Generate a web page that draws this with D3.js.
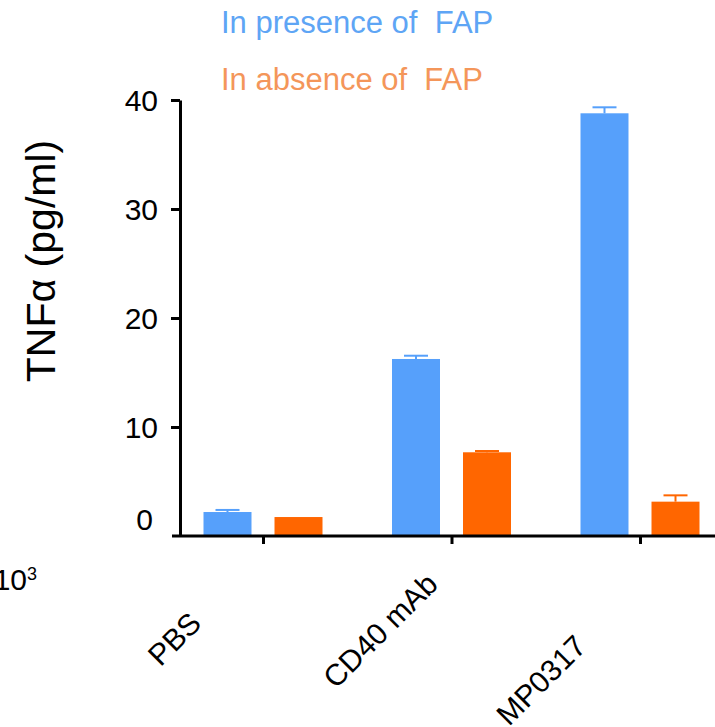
<!DOCTYPE html>
<html>
<head>
<meta charset="utf-8">
<script src="https://cdn.jsdelivr.net/npm/d3@7"></script>
<style>
  body { margin: 0; background: #fff; }
  text { font-family: "Liberation Sans", Arial, sans-serif; }
</style>
</head>
<body>
<div class="chart"></div>
<script>
// data
var groups = ["PBS", "CD40 mAb", "MP0317"]
var series = ["In presence of  FAP", "In absence of  FAP"]
var presence = [2.2, 16.24, 38.78]
var presenceErr = [0.19, 0.3, 0.55]
var absence = [1.74, 7.68, 3.15]
var absenceErr = [0, 0.12, 0.58]
var yTicks = [0, 10, 20, 30, 40]

var barColors = ["#56a0fb", "#ff6600"]
var legendColors = ["#5ea5f5", "#f4965a"]

var width = 715, height = 727

var svg = d3.select(".chart")
    .append("svg")
        .attr("width", width)
        .attr("height", height)

var x0 = d3.scalePoint().domain(groups).range([263, 640])
var x1 = d3.scaleBand().domain(series).range([-59.5, 59.5]).paddingInner(0.324)
var y = d3.scaleLinear().domain([0, 40]).range([536, 100])

var data = []
groups.forEach((g, i) => {
    data.push({group: g, series: series[0], value: presence[i], err: presenceErr[i], color: barColors[0]})
    data.push({group: g, series: series[1], value: absence[i], err: absenceErr[i], color: barColors[1]})
})

// bars
svg.selectAll(".bar")
    .data(data)
    .enter().append("rect")
    .attr("class", "bar")
    .attr("x", d => x0(d.group) + x1(d.series))
    .attr("width", x1.bandwidth())
    .attr("y", d => y(d.value))
    .attr("height", d => y(0) - y(d.value))
    .style("fill", d => d.color)

// error bars (upper only)
var eb = svg.selectAll(".err")
    .data(data.filter(d => d.err > 0))
    .enter().append("g")
    .attr("class", "err")
    .attr("transform", d => "translate(" + (x0(d.group) + x1(d.series) + x1.bandwidth() / 2) + ",0)")
eb.append("line")
    .attr("y1", d => y(d.value))
    .attr("y2", d => y(d.value + d.err))
    .style("stroke", d => d.color)
    .style("stroke-width", 2)
eb.append("line")
    .attr("x1", -x1.bandwidth() / 4)
    .attr("x2", x1.bandwidth() / 4)
    .attr("y1", d => y(d.value + d.err))
    .attr("y2", d => y(d.value + d.err))
    .style("stroke", d => d.color)
    .style("stroke-width", 2)

// y axis
var yAxis = d3.axisLeft(y).tickValues(yTicks).tickSize(9).tickPadding(13).tickSizeOuter(0)
var yg = svg.append("g")
    .attr("transform", "translate(180,0)")
    .call(yAxis)
yg.select(".domain").style("stroke", "#000").style("stroke-width", 3)
yg.selectAll(".tick line").style("stroke", "#000").style("stroke-width", 3)
    .filter(d => d == 0).remove()
yg.selectAll(".tick text")
    .style("font-size", "30px")
    .style("fill", "#000")
    .attr("dy", "0.35em")
yg.selectAll(".tick text").filter(d => d == 0)
    .attr("x", -27)
    .attr("y", -17)

// x axis
var xAxis = d3.axisBottom(x0).tickSize(8).tickSizeOuter(0).tickFormat("")
var xg = svg.append("g")
    .attr("transform", "translate(0," + y(0) + ")")
    .call(xAxis)
xg.select(".domain").attr("d", "M172,0H" + width).style("stroke", "#000").style("stroke-width", 3)
xg.selectAll(".tick line").style("stroke", "#000").style("stroke-width", 3)

// category labels, rotated
var labelDx = [-60, -12, -52]
var labelDy = [89, 50, 112]
svg.selectAll(".cat")
    .data(groups)
    .enter().append("text")
    .attr("class", "cat")
    .attr("transform", (d, i) => "translate(" + (x0(d) + labelDx[i]) + "," + (y(0) + labelDy[i]) + ") rotate(-45)")
    .style("text-anchor", "end")
    .style("font-size", "30px")
    .text(d => d)

// stray 10^3 label on the left edge
svg.append("text")
    .attr("x", 27)
    .attr("y", 590)
    .style("text-anchor", "end")
    .style("font-size", "30px")
    .text("10")
svg.append("text")
    .attr("x", 27)
    .attr("y", 580)
    .style("font-size", "18px")
    .text("3")

// y title
svg.append("text")
    .attr("transform", "translate(55,261) rotate(-90)")
    .style("text-anchor", "middle")
    .style("font-size", "41px")
    .text("TNFα (pg/ml)")

// legend
svg.selectAll(".legend")
    .data(series)
    .enter().append("text")
    .attr("class", "legend")
    .attr("x", 221)
    .attr("y", (d, i) => 33 + i * 57)
    .style("font-size", "31px")
    .style("white-space", "pre")
    .style("fill", (d, i) => legendColors[i])
    .text(d => d)
</script>
</body>
</html>
